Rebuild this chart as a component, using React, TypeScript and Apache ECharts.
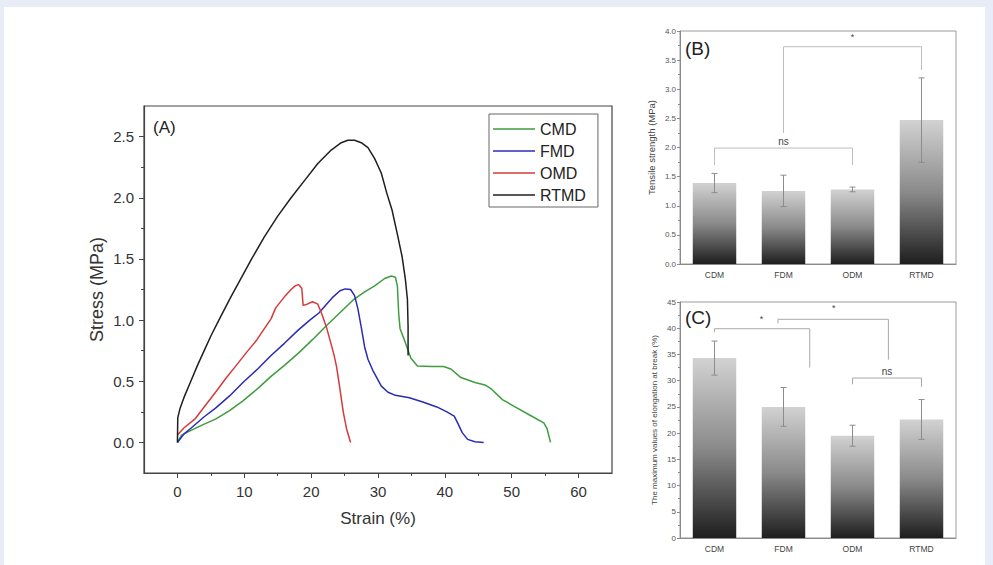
import React, { useEffect, useRef } from "react";
import * as echarts from "echarts";

// ---------- Panel A: stress-strain curves ([strain %, stress MPa]) ----------
const seriesNames = ["CMD", "FMD", "OMD", "RTMD"];
const curveCMD: number[][] = [
  [0, 0], [0.6, 0.06], [2.1, 0.1], [4, 0.15], [5.7, 0.19], [7.8, 0.26], [9.8, 0.34], [12, 0.44], [14, 0.54],
  [16, 0.63], [18.1, 0.73], [20.2, 0.84], [22.2, 0.95], [24.3, 1.06], [26.4, 1.17], [28, 1.23], [29.5, 1.28],
  [31, 1.34], [32, 1.36], [32.6, 1.35], [32.9, 1.28], [33.1, 1.05], [33.3, 0.93], [34, 0.83], [34.9, 0.69],
  [35.9, 0.625], [38, 0.62], [39.8, 0.62], [40.9, 0.6], [42.4, 0.53], [44.5, 0.49], [46, 0.47], [47, 0.435],
  [48.6, 0.35], [50.7, 0.285], [52.8, 0.22], [54.8, 0.16], [55.3, 0.11], [55.8, 0.0],
];
const curveFMD: number[][] = [
  [0, 0], [1, 0.07], [2.1, 0.12], [4, 0.21], [5.7, 0.28], [7.8, 0.38], [9.8, 0.49], [12, 0.6], [14, 0.71],
  [16, 0.81], [18.1, 0.92], [19.8, 1.0], [21.2, 1.06], [22.3, 1.13], [23.3, 1.19], [24.3, 1.24], [25.1, 1.255],
  [25.9, 1.25], [26.5, 1.2], [27, 1.09], [27.5, 0.94], [28, 0.78], [28.5, 0.68], [29.3, 0.58], [30.5, 0.46],
  [31.5, 0.41], [32.6, 0.385], [34.7, 0.365], [36.7, 0.33], [38.8, 0.29], [40.3, 0.25], [41.4, 0.215],
  [42, 0.15], [42.6, 0.08], [43.4, 0.025], [44.5, 0.005], [45.8, 0.0],
];
const curveOMD: number[][] = [
  [0, 0.06], [1, 0.12], [2.6, 0.19], [4, 0.29], [5.7, 0.41], [7.2, 0.52], [8.8, 0.63], [10.4, 0.74],
  [11.9, 0.84], [13, 0.93], [14, 1.01], [14.7, 1.1], [16, 1.19], [17, 1.25], [17.6, 1.28], [18.1, 1.29],
  [18.6, 1.26], [18.8, 1.12], [19.4, 1.13], [20.2, 1.15], [21, 1.13], [21.6, 1.05], [22.3, 0.94],
  [22.8, 0.84], [23.4, 0.72], [23.8, 0.62], [24.3, 0.44], [24.8, 0.25], [25.3, 0.11], [25.9, 0.0],
];
const curveRTMD: number[][] = [
  [0, 0], [0.05, 0.2], [0.4, 0.28], [1, 0.37], [2, 0.5], [3, 0.63], [4, 0.75], [5, 0.87], [6.2, 1.0],
  [8, 1.19], [10, 1.39], [11.1, 1.5], [13, 1.68], [15, 1.85], [17, 2.0], [19, 2.14], [21, 2.28], [23, 2.39],
  [24.5, 2.45], [25.5, 2.47], [26.5, 2.47], [27.5, 2.45], [28.5, 2.41], [29.5, 2.32], [30.5, 2.2],
  [31.3, 2.04], [32.1, 1.9], [32.9, 1.7], [33.6, 1.52], [34.1, 1.33], [34.4, 1.17], [34.5, 0.95], [34.5, 0.71],
];
const curveColors = ["#3f9c3f", "#2b2bb3", "#d63a3a", "#1f1f1f"];
const strainMajorTicks = [0, 10, 20, 30, 40, 50, 60];
const strainMinorTicks = [5, 15, 25, 35, 45, 55];
const stressMajorTicks = [0, 0.5, 1, 1.5, 2, 2.5];
const stressMinorTicks = [0.25, 0.75, 1.25, 1.75, 2.25];

// ---------- Panels B and C ----------
const groups = ["CDM", "FDM", "ODM", "RTMD"];
const tensileMean = [1.39, 1.255, 1.28, 2.47];
const tensileErr = [0.165, 0.27, 0.04, 0.725];
const elongMean = [34.3, 25.0, 19.5, 22.6];
const elongErr = [3.25, 3.7, 2.0, 3.8];
// brackets: [x1, x2, top, leg1 bottom, leg2 bottom, label x, label y]
const bracketsB: number[][] = [
  [0, 2, 1.99, 1.7, 1.7, 1, 2.1],
  [1, 3, 3.73, 2.25, 3.33, 2, 3.9],
];
const bracketLabelsB = ["ns", "*"];
const bracketsC: number[][] = [
  [0, 1.38, 39.9, 39.3, 32.5, 0.68, 41.7],
  [0.92, 2.52, 41.7, 40.9, 34.0, 1.73, 43.8],
  [2, 3, 30.5, 29.3, 28.8, 2.5, 31.8],
];
const bracketLabelsC = ["*", "*", "ns"];

const FONT = "'Liberation Sans', Arial, sans-serif";

function errorRender(params: any, api: any) {
  const x = api.value(0);
  const lo = api.value(1);
  const hi = api.value(2);
  const p1 = api.coord([x, hi]);
  const p2 = api.coord([x, lo]);
  const w = 3;
  const st = { stroke: "#8c8c8c", lineWidth: 1 };
  return {
    type: "group",
    children: [
      { type: "line", shape: { x1: p1[0], y1: p1[1], x2: p2[0], y2: p2[1] }, style: st },
      { type: "line", shape: { x1: p1[0] - w, y1: p1[1], x2: p1[0] + w, y2: p1[1] }, style: st },
      { type: "line", shape: { x1: p2[0] - w, y1: p2[1], x2: p2[0] + w, y2: p2[1] }, style: st },
    ],
  };
}

function makeBracketRender(labels: string[], color: string) {
  return (params: any, api: any) => {
    const x1 = api.value(0), x2 = api.value(1), top = api.value(2);
    const l1 = api.value(3), l2 = api.value(4), lx = api.value(5), ly = api.value(6);
    const a = api.coord([x1, l1]);
    const b = api.coord([x1, top]);
    const c = api.coord([x2, top]);
    const d = api.coord([x2, l2]);
    const t = api.coord([lx, ly]);
    const lab = labels[params.dataIndex];
    return {
      type: "group",
      children: [
        {
          type: "polyline",
          shape: { points: [a, b, c, d] },
          style: { stroke: color, lineWidth: 1, fill: "none" },
        },
        {
          type: "text",
          x: t[0],
          y: t[1],
          style: {
            text: lab,
            fill: "#444",
            font: `${lab === "ns" ? 10 : 9}px ${FONT}`,
            align: "center",
            verticalAlign: "middle",
          },
        },
      ],
    };
  };
}

const barGradient = () =>
  new echarts.graphic.LinearGradient(0, 0, 0, 1, [
    { offset: 0, color: "#d2d2d2" },
    { offset: 0.5, color: "#8a8a8a" },
    { offset: 1, color: "#1e1e1e" },
  ]);

export default function App() {
  const ref = useRef<HTMLDivElement>(null);
  useEffect(() => {
    if (!ref.current) return;
    const chart = echarts.init(ref.current, null, { renderer: "svg" });
    const curves = [curveCMD, curveFMD, curveOMD, curveRTMD];

    const smallAxisLabel = { fontSize: 8, color: "#555", fontFamily: FONT, margin: 4 };

    const option: any = {
      animation: false,
      backgroundColor: "transparent",
      textStyle: { fontFamily: FONT },
      graphic: [
        { type: "rect", z: -10, shape: { x: 4, y: 7, width: 981, height: 558 }, style: { fill: "#ffffff" } },
        { type: "text", x: 153, y: 127, style: { text: "(A)", font: `17px ${FONT}`, fill: "#222", verticalAlign: "middle" } },
        { type: "text", x: 685, y: 48, style: { text: "(B)", font: `19px ${FONT}`, fill: "#222", verticalAlign: "middle" } },
        { type: "text", x: 685, y: 317, style: { text: "(C)", font: `19px ${FONT}`, fill: "#222", verticalAlign: "middle" } },
      ],
      legend: {
        data: seriesNames,
        orient: "vertical",
        left: 489,
        top: 114,
        padding: [7, 12, 4, 4],
        icon: "rect",
        itemWidth: 42,
        itemHeight: 1.6,
        itemGap: 6,
        borderColor: "#666",
        borderWidth: 1,
        textStyle: { fontSize: 16, lineHeight: 16, color: "#222", fontFamily: FONT },
      },
      grid: [
        { left: 144, top: 106, width: 468, height: 367, show: true, borderColor: "#444", borderWidth: 1.2, backgroundColor: "transparent" },
        { left: 680, top: 31, width: 276, height: 233, show: true, borderColor: "#9a9a9a", borderWidth: 1, backgroundColor: "transparent" },
        { left: 680, top: 302, width: 276, height: 236, show: true, borderColor: "#9a9a9a", borderWidth: 1, backgroundColor: "transparent" },
      ],
      xAxis: [
        {
          gridIndex: 0, type: "value", min: -5, max: 65, position: "bottom",
          name: "Strain (%)", nameLocation: "middle", nameGap: 37,
          nameTextStyle: { fontSize: 17, color: "#333", fontFamily: FONT },
          axisLine: { onZero: false, lineStyle: { color: "#444", width: 1.2 } },
          axisTick: { show: true, inside: false, length: 5, customValues: strainMajorTicks, lineStyle: { color: "#444" } },
          axisLabel: { customValues: strainMajorTicks, fontSize: 15, color: "#333", margin: 11, fontFamily: FONT },
          splitLine: { show: false },
        },
        {
          gridIndex: 0, type: "value", min: -5, max: 65, position: "bottom", offset: 0,
          axisLine: { show: false, onZero: false },
          axisTick: { show: true, inside: false, length: 3, customValues: strainMinorTicks, lineStyle: { color: "#444" } },
          axisLabel: { show: false },
          splitLine: { show: false },
        },
        {
          gridIndex: 1, type: "category", data: groups, position: "bottom",
          axisLine: { onZero: false, lineStyle: { color: "#8a8a8a" } },
          axisTick: { alignWithLabel: true, length: 3, lineStyle: { color: "#8a8a8a" } },
          axisLabel: { fontSize: 8.5, color: "#444", margin: 6, fontFamily: FONT },
        },
        { gridIndex: 1, type: "value", min: -0.5, max: 3.5, show: false, axisLine: { onZero: false } },
        {
          gridIndex: 2, type: "category", data: groups, position: "bottom",
          axisLine: { onZero: false, lineStyle: { color: "#8a8a8a" } },
          axisTick: { alignWithLabel: true, length: 3, lineStyle: { color: "#8a8a8a" } },
          axisLabel: { fontSize: 8.5, color: "#444", margin: 6, fontFamily: FONT },
        },
        { gridIndex: 2, type: "value", min: -0.5, max: 3.5, show: false, axisLine: { onZero: false } },
      ],
      yAxis: [
        {
          gridIndex: 0, type: "value", min: -0.25, max: 2.75, position: "left",
          name: "Stress (MPa)", nameLocation: "middle", nameGap: 38,
          nameTextStyle: { fontSize: 18, color: "#333", fontFamily: FONT },
          axisLine: { show: true, onZero: false, lineStyle: { color: "#444", width: 1.2 } },
          axisTick: { show: true, inside: false, length: 5, customValues: stressMajorTicks, lineStyle: { color: "#444" } },
          axisLabel: { customValues: stressMajorTicks, fontSize: 15, color: "#333", margin: 10, fontFamily: FONT, formatter: (v: number) => v.toFixed(1) },
          splitLine: { show: false },
        },
        {
          gridIndex: 0, type: "value", min: -0.25, max: 2.75, position: "left", offset: 0,
          axisLine: { show: false, onZero: false },
          axisTick: { show: true, inside: false, length: 3, customValues: stressMinorTicks, lineStyle: { color: "#444" } },
          axisLabel: { show: false },
          splitLine: { show: false },
        },
        {
          gridIndex: 1, type: "value", min: 0, max: 4, interval: 0.5,
          name: "Tensile strength (MPa)", nameLocation: "middle", nameGap: 24,
          nameTextStyle: { fontSize: 9.5, color: "#444", fontFamily: FONT },
          axisLine: { show: true, onZero: false, lineStyle: { color: "#8a8a8a" } },
          axisTick: { show: true, length: 3, lineStyle: { color: "#8a8a8a" } },
          minorTick: { show: true, splitNumber: 2, length: 2, lineStyle: { color: "#8a8a8a" } },
          axisLabel: { ...smallAxisLabel, formatter: (v: number) => v.toFixed(1) },
          splitLine: { show: false },
        },
        {
          gridIndex: 2, type: "value", min: 0, max: 45, interval: 5,
          name: "The maximum values of elongation at break (%)", nameLocation: "middle", nameGap: 22,
          nameTextStyle: { fontSize: 8, color: "#444", fontFamily: FONT },
          axisLine: { show: true, onZero: false, lineStyle: { color: "#8a8a8a" } },
          axisTick: { show: true, length: 3, lineStyle: { color: "#8a8a8a" } },
          minorTick: { show: true, splitNumber: 2, length: 2, lineStyle: { color: "#8a8a8a" } },
          axisLabel: { ...smallAxisLabel },
          splitLine: { show: false },
        },
      ],
      series: [
        ...curves.map((c, i) => ({
          name: seriesNames[i],
          type: "line",
          xAxisIndex: 0,
          yAxisIndex: 0,
          data: c,
          showSymbol: false,
          symbol: "none",
          lineStyle: { color: curveColors[i], width: 1.5 },
          itemStyle: { color: curveColors[i] },
          z: 3 + i,
        })),
        {
          type: "bar", xAxisIndex: 2, yAxisIndex: 2, data: tensileMean, barWidth: "63%",
          itemStyle: { color: barGradient() },
        },
        {
          type: "custom", xAxisIndex: 3, yAxisIndex: 2, renderItem: errorRender, z: 5,
          data: tensileMean.map((m, i) => [i, m - tensileErr[i], m + tensileErr[i]]),
        },
        {
          type: "custom", xAxisIndex: 3, yAxisIndex: 2, renderItem: makeBracketRender(bracketLabelsB, "#bdbdbd"), z: 5,
          data: bracketsB,
        },
        {
          type: "bar", xAxisIndex: 4, yAxisIndex: 3, data: elongMean, barWidth: "63%",
          itemStyle: { color: barGradient() },
        },
        {
          type: "custom", xAxisIndex: 5, yAxisIndex: 3, renderItem: errorRender, z: 5,
          data: elongMean.map((m, i) => [i, m - elongErr[i], m + elongErr[i]]),
        },
        {
          type: "custom", xAxisIndex: 5, yAxisIndex: 3, renderItem: makeBracketRender(bracketLabelsC, "#a8a8a8"), z: 5,
          data: bracketsC,
        },
      ],
    };
    chart.setOption(option);
    return () => chart.dispose();
  }, []);

  return (
    <div
      ref={ref}
      style={{ position: "absolute", left: 0, top: 0, width: 993, height: 565, background: "#e8ecf6" }}
    />
  );
}
